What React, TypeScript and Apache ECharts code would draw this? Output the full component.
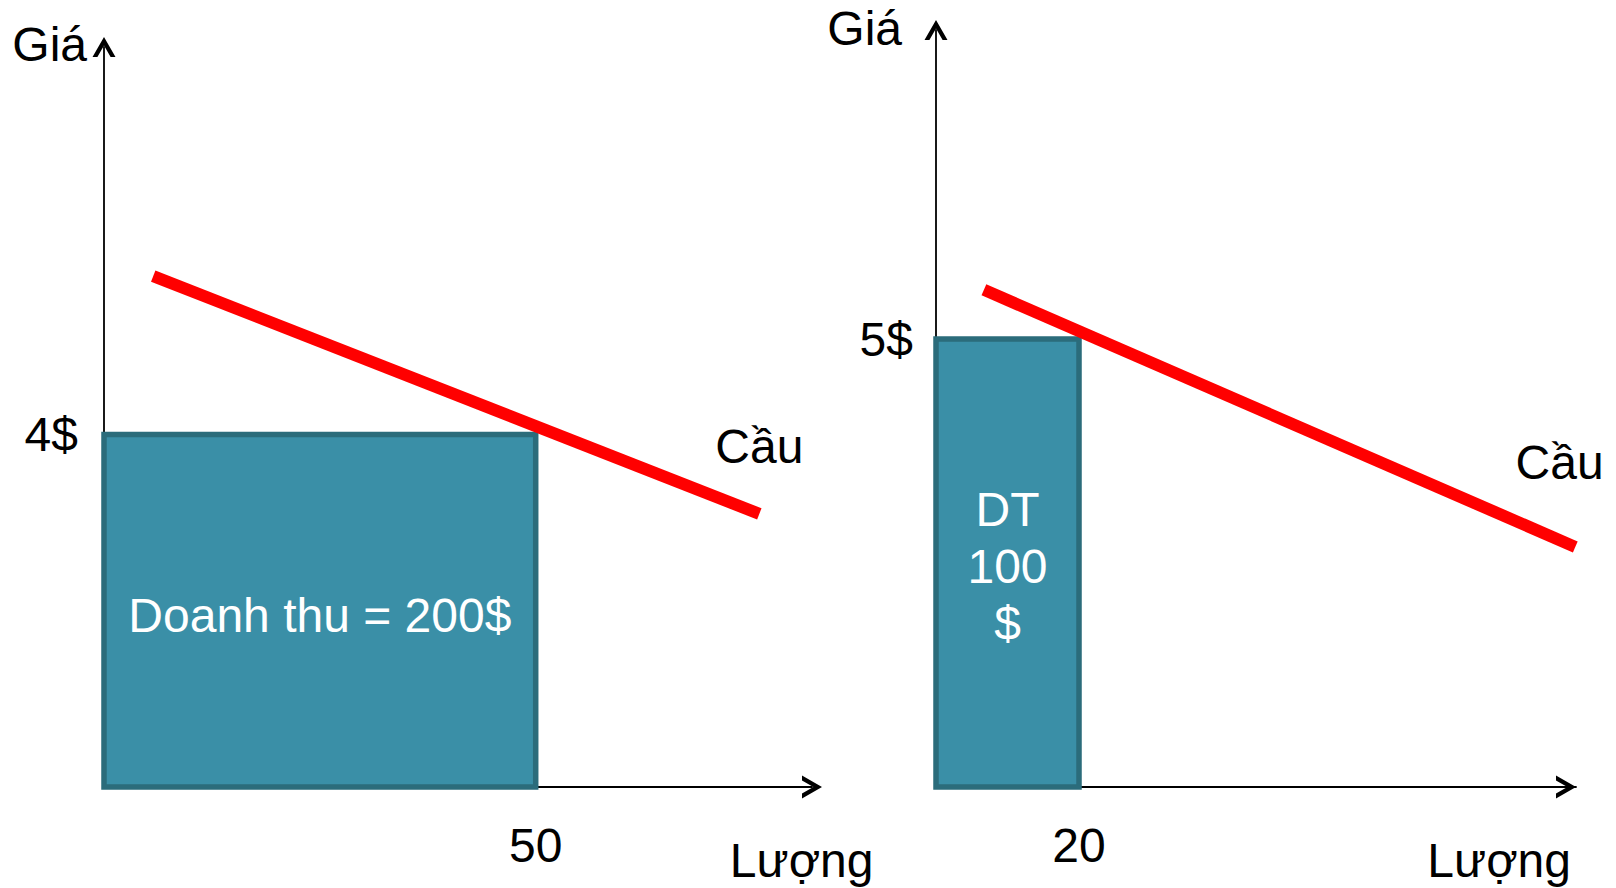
import React, { useEffect, useRef } from "react";
import * as echarts from "echarts";

// ---- data ----
const revenueQuantity = [50, 20];
const revenuePrice = [4, 5];
const revenueLabels = ["Doanh thu = 200$", "DT\n100\n$"];
const demandLeft = [
  [5.7, 5.8],
  [75.9, 3.1],
];
const demandRight = [
  [6.7, 5.55],
  [89.4, 2.68],
];
// where the "Cầu" label sits, in each chart's own (quantity, price) units
const demandLabelLeft = [75.9, 3.87];
const demandLabelRight = [87.2, 3.62];
const priceTicksLeft = [4];
const priceTicksRight = [5];
const quantityTicksLeft = [50];
const quantityTicksRight = [20];
const axisNames = { price: "Giá", quantity: "Lượng" };
const demandName = "Cầu";

const FONT = '"Liberation Sans", Arial, sans-serif';
const FS = 48;
const ARROW = "path://M11,0 L22.5,20 L17.6,20 L11,8.6 L4.4,20 L-0.5,20 Z";

function axisLineStyle(endOffset: number) {
  return {
    show: true,
    onZero: true,
    symbol: ["none", ARROW],
    symbolSize: [23, 20],
    symbolOffset: [0, endOffset],
    lineStyle: { color: "#000", width: 1.8 },
  };
}

export default function App() {
  const ref = useRef<HTMLDivElement>(null);
  useEffect(() => {
    document.body.style.margin = "0";
    const chart = echarts.init(ref.current!, null, { renderer: "svg" });

    const rectSeries = (idx: number, dy: number) => ({
      type: "custom",
      xAxisIndex: idx,
      yAxisIndex: idx,
      z: 2,
      silent: true,
      data: [[revenueQuantity[idx], revenuePrice[idx]]],
      renderItem: (params: any, api: any) => {
        const q = api.value(0);
        const p = api.value(1);
        const tl = api.coord([0, p]);
        const br = api.coord([q, 0]);
        return {
          type: "group",
          children: [
            {
              type: "rect",
              shape: { x: tl[0], y: tl[1], width: br[0] - tl[0], height: br[1] - tl[1] },
              style: { fill: "#3a8fa7", stroke: "#2b6c7b", lineWidth: 5.5 },
            },
            {
              type: "text",
              x: (tl[0] + br[0]) / 2,
              y: (tl[1] + br[1]) / 2 + dy,
              style: {
                text: revenueLabels[idx],
                fill: "#ffffff",
                fontSize: FS,
                fontFamily: FONT,
                align: "center",
                verticalAlign: "middle",
                lineHeight: 57,
              },
            },
          ],
        };
      },
    });

    const demandSeries = (idx: number, data: number[][], labelAt: number[]) => ({
      type: "line",
      xAxisIndex: idx,
      yAxisIndex: idx,
      z: 3,
      silent: true,
      clip: false,
      symbol: "none",
      data,
      lineStyle: { color: "#ff0000", width: 12, cap: "butt" },
      markPoint: {
        symbol: "circle",
        symbolSize: 0,
        silent: true,
        data: [
          {
            coord: labelAt,
            label: {
              show: true,
              formatter: demandName,
              position: "inside",
              color: "#000",
              fontSize: FS,
              fontFamily: FONT,
              align: "center",
              verticalAlign: "middle",
            },
          },
        ],
      },
    });

    const yAxis = (idx: number, max: number, ticks: number[], padRight: number, gap: number, labelPad: number[], margin: number) => ({
      type: "value",
      gridIndex: idx,
      min: 0,
      max,
      name: axisNames.price,
      nameLocation: "end",
      nameGap: gap,
      nameMoveOverlap: false,
      nameTextStyle: {
        color: "#000",
        fontSize: FS,
        fontFamily: FONT,
        align: "right",
        verticalAlign: "middle",
        padding: [0, padRight, 0, 0],
      },
      axisLine: axisLineStyle(0),
      axisTick: { show: false },
      splitLine: { show: false },
      axisLabel: {
        customValues: ticks,
        formatter: "{value}$",
        color: "#000",
        fontSize: FS,
        fontFamily: FONT,
        margin,
        padding: labelPad,
      },
    });

    const xAxis = (idx: number, max: number, ticks: number[], gap: number, endOffset: number) => ({
      type: "value",
      gridIndex: idx,
      min: 0,
      max,
      name: axisNames.quantity,
      nameLocation: "end",
      nameGap: gap,
      nameMoveOverlap: false,
      nameTextStyle: {
        color: "#000",
        fontSize: FS,
        fontFamily: FONT,
        align: "right",
        verticalAlign: "top",
        padding: [49, 0, 0, 0],
      },
      axisLine: axisLineStyle(endOffset),
      axisTick: { show: false },
      splitLine: { show: false },
      axisLabel: {
        customValues: ticks,
        formatter: "{value}",
        color: "#000",
        fontSize: FS,
        fontFamily: FONT,
        margin: 34,
      },
    });

    chart.setOption({
      animation: false,
      backgroundColor: "#ffffff",
      grid: [
        { left: 104, top: 47, width: 708, height: 740, outerBoundsMode: "none", containLabel: false },
        { left: 936, top: 30, width: 640, height: 757, outerBoundsMode: "none", containLabel: false },
      ],
      xAxis: [
        xAxis(0, 82, quantityTicksLeft, 61.5, 0),
        xAxis(1, 89.5, quantityTicksRight, -5, -10),
      ],
      yAxis: [
        yAxis(0, 8.4, priceTicksLeft, 17, 3, [6, 0, 0, 0], 26),
        yAxis(1, 8.45, priceTicksRight, 34, 2, [0, 0, 6, 0], 23),
      ],
      series: [
        rectSeries(0, 5),
        rectSeries(1, 3),
        demandSeries(0, demandLeft, demandLabelLeft),
        demandSeries(1, demandRight, demandLabelRight),
      ],
    });
    return () => chart.dispose();
  }, []);
  return <div ref={ref} style={{ width: 1616, height: 888 }} />;
}
